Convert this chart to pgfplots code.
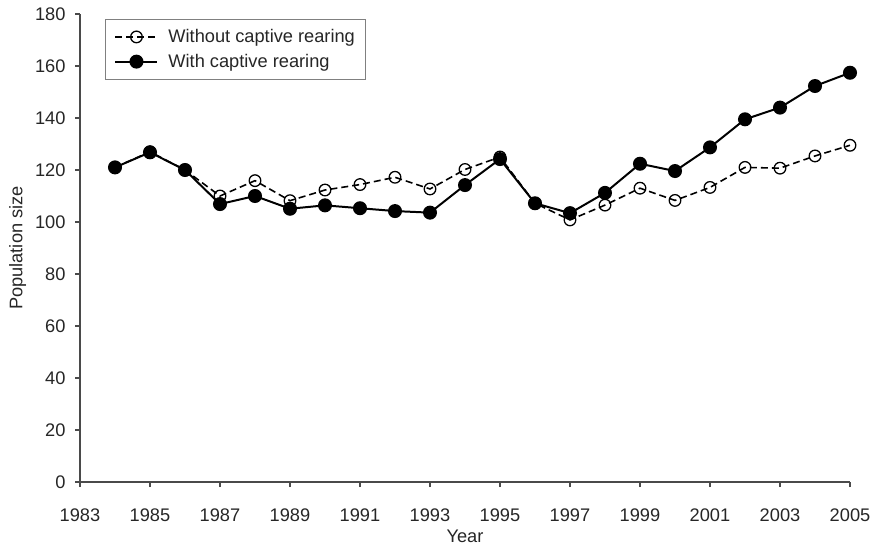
\documentclass[border=0pt]{standalone}
\usepackage{pgfplots}
\pgfplotsset{compat=1.18}
\usepackage{fontspec}
\setmainfont{Liberation Sans}
\definecolor{txt}{HTML}{262626}
\definecolor{axc}{HTML}{4A4A4A}
\begin{document}
\begin{tikzpicture}
\useasboundingbox (-80bp,-65bp) rectangle (791bp,482bp);
\begin{axis}[
  at={(0,0)}, anchor=south west,
  scale only axis, width=770bp, height=468bp,
  xmin=1983, xmax=2005, ymin=0, ymax=180,
  xtick={1983,1985,...,2005}, ytick={0,20,...,180},
  axis lines*=left,
  axis line style={axc, line width=1.1pt},
  tick style={axc, line width=1.1pt},
  tick align=outside, major tick length=5bp,
  /pgf/number format/assume math mode=true,
  /pgf/number format/set thousands separator={},
  ticklabel style={font=\fontsize{18.3}{21}\selectfont, text=txt},
  xticklabel style={yshift=-18bp},
  yticklabel style={xshift=-6bp},
  label style={font=\fontsize{18.3}{21}\selectfont, text=txt},
  xlabel={Year}, ylabel={Population size},
  xlabel style={at={(axis description cs:0.5,0)}, anchor=base, yshift=-60bp},
  ylabel style={yshift=2bp},
  legend style={at={(axis description cs:0.0325,0.989)}, anchor=north west,
    draw=gray, line width=0.9pt, font=\fontsize{18.3}{21}\selectfont, text=txt,
    inner xsep=9bp, inner ysep=8bp, row sep=6bp, cells={anchor=west}},
  legend image code/.code={\draw[mark repeat=2,mark phase=2] plot coordinates {(0bp,0bp) (21bp,0bp) (42bp,0bp)}; \path (50bp,0bp);},
  clip=false,
]
\addplot[black, line width=1.6pt, dash pattern=on 7bp off 4bp, mark=o, mark size=5.8bp,
  mark options={solid, line width=1.3pt}] coordinates {
(1984,121) (1985,127) (1986,120) (1987,110) (1988,115.9) (1989,108.2) (1990,112.3)
(1991,114.4) (1992,117.2) (1993,112.7) (1994,120.2) (1995,125) (1996,107.2)
(1997,100.8) (1998,106.5) (1999,113) (2000,108.3) (2001,113.3) (2002,121)
(2003,120.7) (2004,125.4) (2005,129.5)};
\addlegendentry{Without captive rearing}
\addplot[black, line width=2pt, mark=*, mark size=6bp] coordinates {
(1984,121) (1985,126.8) (1986,120) (1987,106.9) (1988,110) (1989,105.1) (1990,106.4)
(1991,105.3) (1992,104.2) (1993,103.6) (1994,114.2) (1995,124.2) (1996,107.2)
(1997,103.4) (1998,111.2) (1999,122.4) (2000,119.6) (2001,128.7) (2002,139.5)
(2003,144) (2004,152.3) (2005,157.4)};
\addlegendentry{With captive rearing}
\end{axis}
\end{tikzpicture}
\end{document}
